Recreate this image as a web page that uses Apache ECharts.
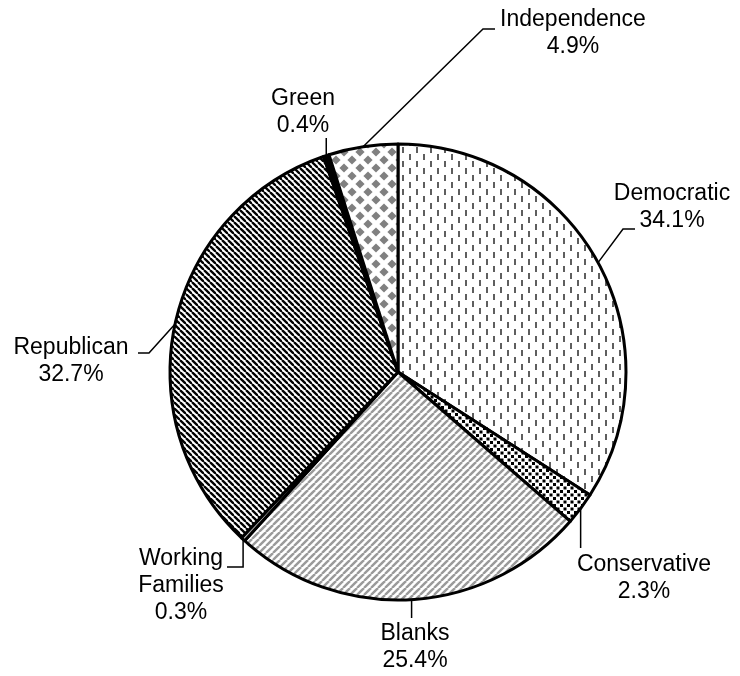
<!DOCTYPE html>
<html><head><meta charset="utf-8">
<script src="https://cdn.jsdelivr.net/npm/echarts@6/dist/echarts.min.js"></script>
<style>html,body{margin:0;padding:0;background:#fff}#c{width:740px;height:676px}</style>
</head><body><div id="c"></div>
<script>
// ---- data ----
const categories = ['Democratic','Conservative','Blanks','Working Families','Republican','Green','Independence'];
const shares = [34.1, 2.3, 25.4, 0.3, 32.7, 0.4, 4.9];

// ---- layout (positions, not data) ----
const CX = 398, CY = 372, R = 228;
const labelSpots = {
  'Democratic':       {x: 672, y: 207, line: [[623, 229], [635, 229]]},
  'Conservative':     {x: 644, y: 578, line: [[null, 548]]},
  'Blanks':           {x: 415, y: 647, line: [[null, 618]]},
  'Working Families': {x: 181, y: 586, line: [[null, 567], [227, 567]]},
  'Republican':       {x: 71,  y: 361, line: [[149, 353], [138, 353]]},
  'Green':            {x: 303, y: 112, line: [[null, 138]]},
  'Independence':     {x: 573, y: 33,  line: [[483, 29], [495, 29]]}
};

function makePattern(w, h, draw) {
  const c = document.createElement('canvas');
  c.width = w; c.height = h;
  const g = c.getContext('2d');
  g.fillStyle = '#fff'; g.fillRect(0, 0, w, h);
  draw(g, w, h);
  return {image: c, repeat: 'repeat'};
}
function diag(g, w, color, lw, dir) {
  g.strokeStyle = color; g.lineWidth = lw;
  for (let k = -1; k <= 1; k++) {
    g.beginPath();
    if (dir === '/') { g.moveTo(k * w, w); g.lineTo(k * w + w, 0); }
    else { g.moveTo(k * w, 0); g.lineTo(k * w + w, w); }
    g.stroke();
  }
}
const fills = [
  makePattern(14, 14, g => { g.fillStyle = '#5e5e5e'; g.fillRect(3, 0, 2, 6); g.fillRect(10, 7, 2, 6); }),
  makePattern(7, 7, g => { g.fillStyle = '#000'; g.fillRect(0, 0, 3, 3); g.fillRect(3.5, 3.5, 3, 3); }),
  makePattern(7, 7, (g, w) => diag(g, w, '#9a9a9a', 2.4, '/')),
  '#b0b0b0',
  makePattern(6, 6, (g, w) => diag(g, w, '#000', 2.3, '\\')),
  '#000',
  makePattern(16, 16, g => {
    g.fillStyle = '#808080';
    const dia = (x, y, r) => { g.beginPath(); g.moveTo(x, y - r); g.lineTo(x + r, y); g.lineTo(x, y + r); g.lineTo(x - r, y); g.closePath(); g.fill(); };
    dia(8, 8, 4.6); dia(0, 0, 4.6); dia(16, 0, 4.6); dia(0, 16, 4.6); dia(16, 16, 4.6);
  })
];

const total = shares.reduce((a, b) => a + b, 0);
function edgePoint(i) {
  let cum = 0;
  for (let k = 0; k < i; k++) cum += shares[k];
  const a = (cum + shares[i] / 2) / total * 2 * Math.PI;
  return [CX + R * Math.sin(a), CY - R * Math.cos(a)];
}

const chart = echarts.init(document.getElementById('c'), null, {renderer: 'canvas'});
chart.setOption({
  backgroundColor: '#fff',
  animation: false,
  series: [{
    type: 'pie',
    center: [CX, CY],
    radius: R,
    startAngle: 90,
    clockwise: true,
    avoidLabelOverlap: false,
    emphasis: {disabled: true},
    itemStyle: {borderColor: '#000', borderWidth: 3},
    data: categories.map((n, i) => ({name: n, value: shares[i], itemStyle: {color: fills[i]}})),
    label: {
      show: true, position: 'outside', color: '#000',
      fontSize: 23, lineHeight: 27, align: 'center',
      fontFamily: '"Liberation Sans", Arial, sans-serif',
      formatter: p => p.name.replace(' ', '\n') + '\n' + p.value + '%'
    },
    labelLine: {show: true, length: 10, length2: 10, lineStyle: {color: '#000', width: 1.5}},
    labelLayout: function (p) {
      const name = categories[p.dataIndex];
      const s = labelSpots[name];
      const e = edgePoint(p.dataIndex);
      const pts = [e];
      s.line.forEach(pt => pts.push([pt[0] == null ? e[0] : pt[0], pt[1]]));
      return {x: s.x, y: s.y, align: 'center', verticalAlign: 'middle', labelLinePoints: pts};
    }
  }]
});
</script>
</body></html>
